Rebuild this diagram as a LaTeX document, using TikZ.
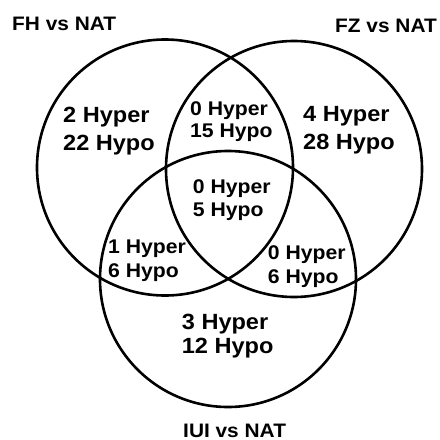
\documentclass[tikz,border=0pt]{standalone}
\usepackage{fontspec}
\setmainfont{Liberation Sans}[FakeStretch=1.07]
\begin{document}
\begin{tikzpicture}[x=1pt,y=-1pt,
  setcirc/.style={circle, draw=black, line width=2.6pt, minimum size=256pt, inner sep=0pt},
  lbl/.style={anchor=base west, inner sep=0pt, align=left},
  big/.style={font=\bfseries\fontsize{22}{28}\selectfont},
  small/.style={font=\bfseries\fontsize{19.8}{23}\selectfont},
  ttl/.style={anchor=base west, inner sep=0pt, font=\bfseries\fontsize{19.5}{22}\selectfont}]
\useasboundingbox (0,0) rectangle (440,440);
\fill[white] (0,0) rectangle (440,440);
\node[setcirc] (fh) at (165,167.5) {};
\node[setcirc] (fz) at (294,169) {};
\node[setcirc] (iui) at (228,279) {};
\node[ttl] (tfh) at (12,30.7) {FH vs NAT};
\node[ttl] (tfz) at (335,32.7) {FZ vs NAT};
\node[ttl] (tiui) at (183,437) {IUI vs NAT};
\node[lbl,big] (ra) at (63,150) {2 Hyper\\22 Hypo};
\node[lbl,big] (rb) at (303,149.5) {4 Hyper\\28 Hypo};
\node[lbl,small,font=\bfseries\fontsize{19.8}{22}\selectfont] (rab) at (190,137.7) {0 Hyper\\15 Hypo};
\node[lbl,small] (rabc) at (192.7,216.7) {0 Hyper\\5 Hypo};
\node[lbl,small,font=\bfseries\fontsize{19.8}{24}\selectfont] (rac) at (108,277.7) {1 Hyper\\6 Hypo};
\node[lbl,small,font=\bfseries\fontsize{19.8}{23.5}\selectfont] (rbc) at (267.7,283.3) {0 Hyper\\6 Hypo};
\node[lbl,big,font=\bfseries\fontsize{22}{24}\selectfont] (rc) at (181.7,353.3) {3 Hyper\\12 Hypo};
\end{tikzpicture}
\end{document}
